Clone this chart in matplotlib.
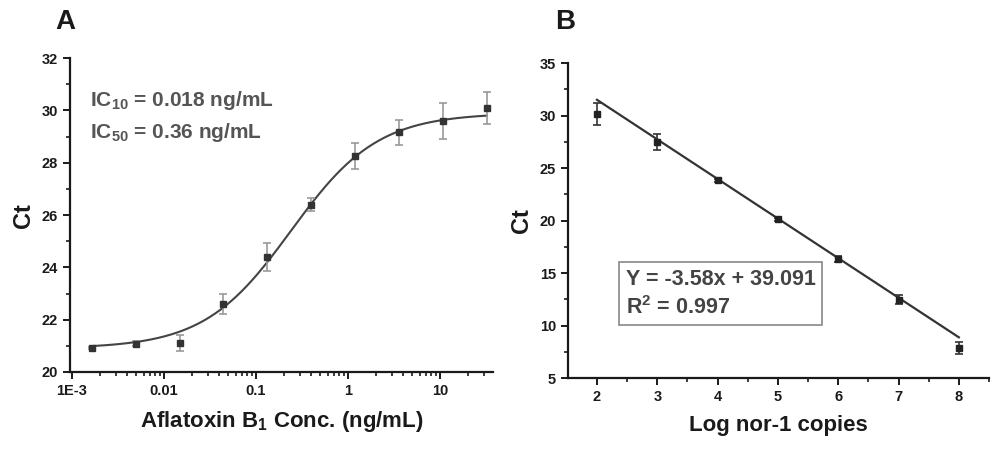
import numpy as np
import matplotlib
matplotlib.use("Agg")
import matplotlib.pyplot as plt
from matplotlib.ticker import LogLocator, FixedLocator, NullFormatter, MultipleLocator

plt.rcParams['font.family'] = ['Liberation Sans', 'DejaVu Sans']
plt.rcParams['mathtext.fontset'] = 'custom'
plt.rcParams['mathtext.rm'] = 'Liberation Sans'
plt.rcParams['mathtext.bf'] = 'Liberation Sans:bold'
plt.rcParams['mathtext.it'] = 'Liberation Sans:italic'

# ---- Panel A data ----
conc_a = [0.00165, 0.0049, 0.0148, 0.044, 0.133, 0.40, 1.2, 3.6, 10.8, 32.4]
ct_a = [20.92, 21.08, 21.10, 22.60, 24.40, 26.40, 28.27, 29.17, 29.60, 30.10]
err_a = [0.05, 0.10, 0.30, 0.40, 0.55, 0.25, 0.50, 0.48, 0.70, 0.60]
# logistic fit parameters (bottom, top, x0, power)
fit_bottom, fit_top, fit_x0, fit_p = 20.9, 29.9, 0.24, 0.92
a_xticks = [1e-3, 0.01, 0.1, 1, 10]
a_xticklabels = ['1E-3', '0.01', '0.1', '1', '10']
a_yticks = [20, 22, 24, 26, 28, 30, 32]

# ---- Panel B data ----
log_copies = [2, 3, 4, 5, 6, 7, 8]
ct_b = [30.16, 27.50, 23.83, 20.14, 16.33, 12.48, 7.86]
err_b = [1.08, 0.75, 0.15, 0.15, 0.30, 0.40, 0.60]
line_slope, line_intercept = -3.77, 39.04
b_yticks = [5, 10, 15, 20, 25, 30, 35]

fig = plt.figure(figsize=(10, 4.49), dpi=100)
axA = fig.add_axes([0.07, 0.1715, 0.423, 0.699])
axB = fig.add_axes([0.568, 0.158, 0.421, 0.7016])

txt = '#1a1a1a'
for ax in (axA, axB):
    for s in ('top', 'right'):
        ax.spines[s].set_visible(False)
    for s in ('left', 'bottom'):
        ax.spines[s].set_linewidth(1.6)
        ax.spines[s].set_color(txt)
    ax.tick_params(which='major', direction='out', length=5, width=1.4, colors=txt,
                   labelsize=10.5)
    ax.tick_params(which='minor', direction='out', length=3, width=1.2, colors=txt)

# Panel A
axA.set_xscale('log')
xs = np.logspace(np.log10(conc_a[0]), np.log10(conc_a[-1]), 300)
ys = fit_top + (fit_bottom - fit_top) / (1 + (xs / fit_x0) ** fit_p)
axA.plot(xs, ys, color='#444444', lw=1.5, zorder=2)
axA.errorbar(conc_a, ct_a, yerr=err_a, fmt='s', ms=5, color='#333333',
             ecolor='#999999', elinewidth=1.2, capsize=3, capthick=1.2, zorder=3)
axA.set_xlim(0.00095, 37.7)
axA.set_ylim(20, 32)
axA.xaxis.set_major_locator(FixedLocator(a_xticks))
axA.set_xticklabels(a_xticklabels)
axA.xaxis.set_minor_locator(LogLocator(base=10, subs=np.arange(2, 10)))
axA.xaxis.set_minor_formatter(NullFormatter())
axA.yaxis.set_major_locator(FixedLocator(a_yticks))
axA.yaxis.set_minor_locator(MultipleLocator(1))
axA.set_xlabel(r'Aflatoxin B$_{\mathbf{1}}$ Conc. (ng/mL)', fontsize=16,
               fontweight='bold', color=txt, labelpad=8)
axA.set_ylabel('Ct', fontsize=17, fontweight='bold', color=txt, labelpad=5)
axA.text(0.047, 0.866, r'IC$_{\mathbf{10}}$ = 0.018 ng/mL', fontsize=15,
         fontweight='bold', color='#555555', va='center', transform=axA.transAxes)
axA.text(0.047, 0.764, r'IC$_{\mathbf{50}}$ = 0.36 ng/mL', fontsize=15,
         fontweight='bold', color='#555555', va='center', transform=axA.transAxes)
fig.text(0.065, 0.95, 'A', fontsize=20, fontweight='bold', color=txt, va='center',
         ha='center')

# Panel B
bx = np.array([log_copies[0], log_copies[-1]], dtype=float)
axB.plot(bx, line_slope * bx + line_intercept, color='#333333', lw=1.6, zorder=2)
axB.errorbar(log_copies, ct_b, yerr=err_b, fmt='s', ms=5, color='#222222',
             ecolor='#333333', elinewidth=1.2, capsize=3, capthick=1.2, zorder=3)
axB.set_xlim(1.52, 8.5)
axB.set_ylim(5, 35)
axB.xaxis.set_major_locator(FixedLocator(log_copies))
axB.xaxis.set_minor_locator(MultipleLocator(0.5))
axB.yaxis.set_major_locator(FixedLocator(b_yticks))
axB.yaxis.set_minor_locator(MultipleLocator(2.5))
axB.set_xlabel('Log nor-1 copies', fontsize=16, fontweight='bold', color=txt,
               labelpad=8)
axB.set_ylabel('Ct', fontsize=17, fontweight='bold', color=txt, labelpad=5)
axB.text(0.137, 0.267, 'Y = -3.58x + 39.091\n' + r'R$^{\mathbf{2}}$ = 0.997',
         transform=axB.transAxes, fontsize=15.5, fontweight='bold', color='#444444',
         va='center', ha='left', linespacing=1.35,
         bbox=dict(boxstyle='square,pad=0.3', fc='white', ec='#888888', lw=1.2))
fig.text(0.565, 0.95, 'B', fontsize=20, fontweight='bold', color=txt, va='center',
         ha='center')

for ax in (axA, axB):
    for lbl in ax.get_xticklabels() + ax.get_yticklabels():
        lbl.set_fontweight('bold')

fig.savefig('out.png', dpi=100)
